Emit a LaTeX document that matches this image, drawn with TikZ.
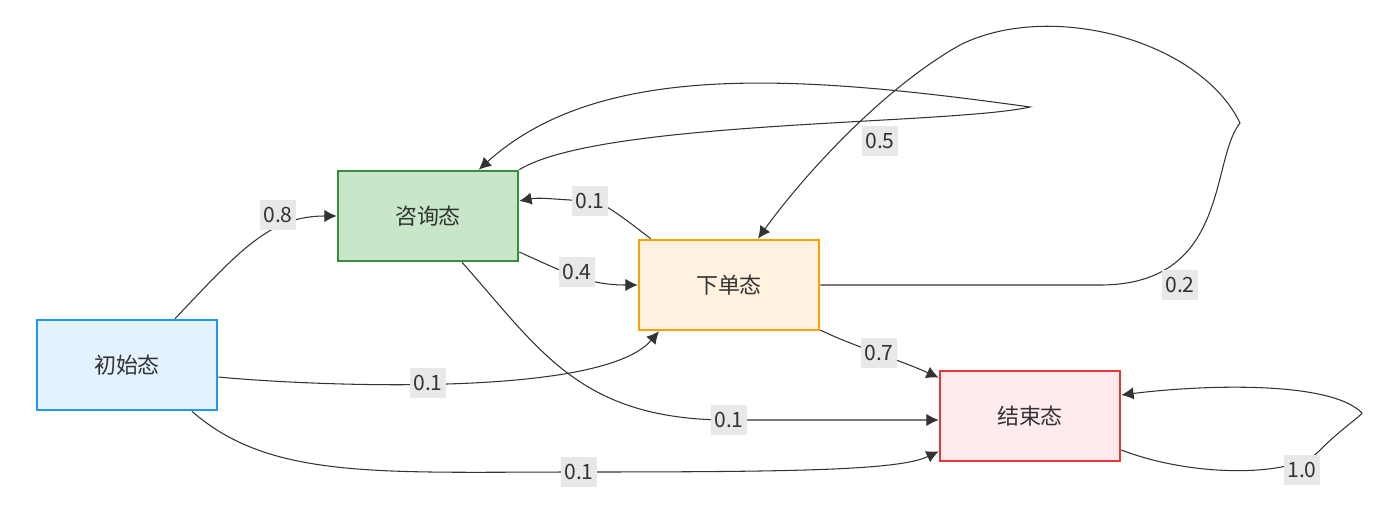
\documentclass[tikz,border=0pt]{standalone}
\usepackage{fontspec}
\setmainfont{Noto Sans CJK SC}
\usetikzlibrary{arrows.meta,calc}
\definecolor{lbl}{HTML}{E8E8E8}
\definecolor{bB}{HTML}{2196F3}\definecolor{fB}{HTML}{E3F2FD}
\definecolor{bG}{HTML}{388E3C}\definecolor{fG}{HTML}{C8E6C9}
\definecolor{bO}{HTML}{FFA000}\definecolor{fO}{HTML}{FFF3E0}
\definecolor{bR}{HTML}{E53935}\definecolor{fR}{HTML}{FFEBEE}
\definecolor{ink}{HTML}{333333}
\begin{document}
\begin{tikzpicture}[x=0.02cm,y=-0.02cm,
 st/.style={draw,line width=1.5pt,minimum width=3.6cm,minimum height=1.8cm,font=\fontsize{12.5}{14}\selectfont,text=ink},
 e/.style={draw=ink,line width=0.6pt,-{Latex[length=7pt,width=7pt]}},
 lb/.style={fill=lbl,inner sep=2pt,minimum height=0.6cm,font=\fontsize{12}{14}\selectfont,text=ink}]
\useasboundingbox (0,0) rectangle (1400,530);
\node[st,draw=bB,fill=fB] (s0) at (127,365) {初始态};
\node[st,draw=bG,fill=fG] (s1) at (428,216) {咨询态};
\node[st,draw=bO,fill=fO] (s2) at (729,285) {下单态};
\node[st,draw=bR,fill=fR] (s3) at (1030,416) {结束态};
% 0.8
\draw[e] ($(s0.north)+(48,0)$) .. controls (240,250) and (270,216) .. (s1.west);
% 0->2
\draw[e] ($(s0.east)+(0,12)$) .. controls (300,385) and (600,400) .. ($(s2.south)+(-70,0)$);
% 0->3
\draw[e] ($(s0.south)+(65,0)$) .. controls (270,480) and (380,472) .. (579,472) .. controls (800,472) and (900,470) .. ($(s3.south west)+(0,-11)$);
% 1->2
\draw[e] ($(s1.east)+(0,36)$) .. controls (570,275) and (590,285) .. (s2.west);
% 1->3
\draw[e] ($(s1.south)+(34,0)$) .. controls (540,350) and (580,420) .. (729,420) -- ($(s3.west)+(0,4)$);
% 1 self 0.5
\draw[e] (s1.north east) .. controls (600,120) and (950,125) .. (1030,107) .. controls (800,75) and (600,60) .. ($(s1.north west)+(142,0)$);
% 2->1
\draw[e] ($(s2.north west)+(13,0)$) .. controls (620,215) and (600,200) .. (590,201) .. controls (560,200) and (540,197) .. ($(s1.east)+(0,-15)$);
% 2 self 0.2
\draw[e] (s2.east) -- (1100,285) .. controls (1230,285) and (1210,160) .. (1240,123) .. controls (1200,40) and (1050,0) .. (960,45) .. controls (880,90) and (800,180) .. ($(s2.north)+(29,0)$);
% 2->3
\draw[e] ($(s2.east)+(0,45)$) .. controls (850,345) and (900,360) .. ($(s3.north west)+(0,8)$);
% 3 self 1.0
\draw[e] ($(s3.east)+(0,34)$) .. controls (1200,480) and (1300,475) .. (1320,450) .. controls (1340,430) and (1362,415) .. (1362,413) .. controls (1330,380) and (1200,385) .. ($(s3.east)+(0,-21)$);
% labels
\node[lb] (l08) at (278,215) {0.8};
\node[lb] (l01a) at (428,383) {0.1};
\node[lb] (l01b) at (579,472) {0.1};
\node[lb] (l04) at (577,272) {0.4};
\node[lb] (l01c) at (729,420) {0.1};
\node[lb] (l05) at (880,141) {0.5};
\node[lb] (l01d) at (590,201) {0.1};
\node[lb] (l02) at (1180,285) {0.2};
\node[lb] (l07) at (879,353) {0.7};
\node[lb] (l10) at (1302,470) {1.0};
\end{tikzpicture}
\end{document}
